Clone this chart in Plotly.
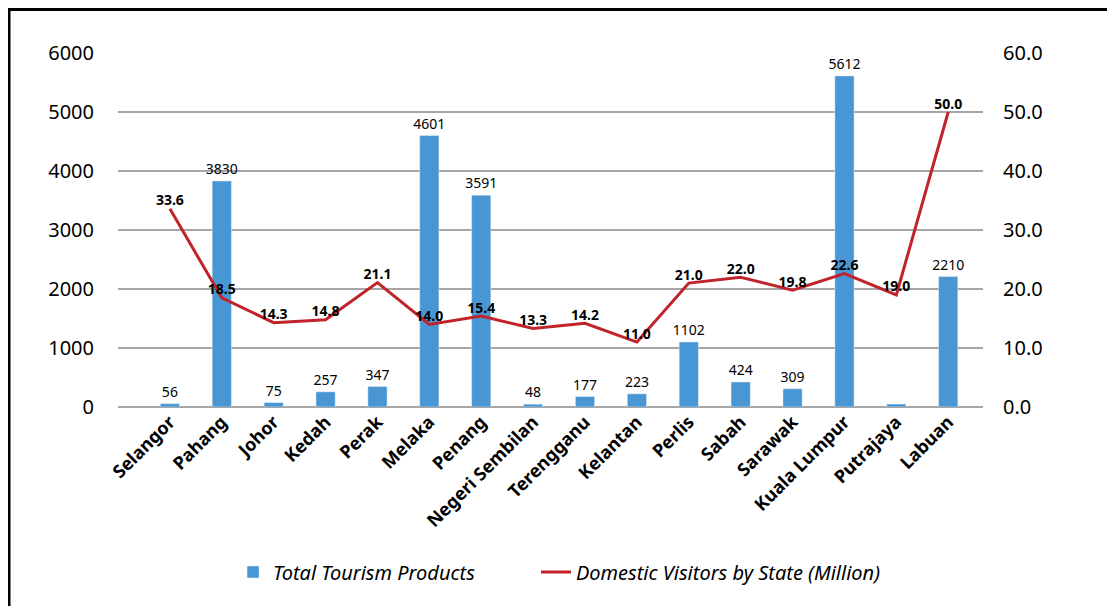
import plotly.graph_objects as go

states = ["Selangor", "Pahang", "Johor", "Kedah", "Perak", "Melaka", "Penang",
          "Negeri Sembilan", "Terengganu", "Kelantan", "Perlis", "Sabah",
          "Sarawak", "Kuala Lumpur", "Putrajaya", "Labuan"]
tourism_products = [56, 3830, 75, 257, 347, 4601, 3591, 48, 177, 223, 1102,
                    424, 309, 5612, 50, 2210]
product_labels = ["56", "3830", "75", "257", "347", "4601", "3591", "48", "177",
                  "223", "1102", "424", "309", "5612", "", "2210"]
domestic_visitors = [33.6, 18.5, 14.3, 14.8, 21.1, 14.0, 15.4, 13.3, 14.2, 11.0,
                     21.0, 22.0, 19.8, 22.6, 19.0, 50.0]

FONT = "Noto Sans"
x = list(range(len(states)))

fig = go.Figure()
fig.add_trace(go.Bar(
    x=x, y=tourism_products, name="Total Tourism Products",
    marker=dict(color="#4896D3"), width=0.37,
    text=product_labels, textposition="outside", cliponaxis=False,
    constraintext="none",
    textfont=dict(family=FONT, size=14, color="#000000"),
    legend="legend",
))
fig.add_trace(go.Scatter(
    x=x, y=domestic_visitors, name="Domestic Visitors by State (Million)",
    yaxis="y2", mode="lines+text",
    line=dict(color="#C0232A", width=3),
    text=["<b>%.1f</b>" % v for v in domestic_visitors],
    textposition="top center", cliponaxis=False,
    textfont=dict(family=FONT, size=14, color="#000000"),
    legend="legend2",
))

legend_font = dict(family=FONT, size=20, style="italic", color="#000000")

fig.update_layout(
    width=1107, height=598,
    margin=dict(l=110, r=132, t=45, b=199),
    paper_bgcolor="white", plot_bgcolor="white",
    font=dict(family=FONT, color="#000000"),
    showlegend=True,
    legend=dict(orientation="h", x=0.133, y=-0.466, xanchor="left", yanchor="middle",
                font=legend_font, bgcolor="rgba(0,0,0,0)"),
    legend2=dict(orientation="h", x=0.4832, y=-0.466, xanchor="left", yanchor="middle",
                 font=legend_font, bgcolor="rgba(0,0,0,0)"),
    xaxis=dict(
        tickmode="array", tickvals=x, ticktext=states, tickangle=-45,
        range=[-1.0, 15.67], showgrid=False, zeroline=False, showline=False,
        ticks="", tickfont=dict(family=FONT, size=18, weight="bold", color="#000000"),
    ),
    yaxis=dict(
        range=[0, 6000], tickvals=[0, 1000, 2000, 3000, 4000, 5000, 6000],
        showgrid=True, gridcolor="#A6A6A6", gridwidth=1.5,
        zeroline=True, zerolinecolor="#A6A6A6", zerolinewidth=1.5,
        showline=False, ticks="", ticklabelstandoff=23,
        tickfont=dict(family=FONT, size=20, color="#000000"),
    ),
    yaxis2=dict(
        range=[0, 60], tickvals=[0, 10, 20, 30, 40, 50, 60], tickformat=".1f",
        overlaying="y", side="right", showgrid=False, zeroline=False,
        showline=False, ticks="", ticklabelstandoff=19,
        tickfont=dict(family=FONT, size=20, color="#000000"),
    ),
    shapes=[dict(type="rect", xref="paper", yref="paper",
                 x0=-0.126, x1=1.148, y0=-0.65, y1=1.1229,
                 line=dict(color="#000000", width=3), fillcolor="rgba(0,0,0,0)",
                 layer="above")],
)

fig.write_html("out.html")
